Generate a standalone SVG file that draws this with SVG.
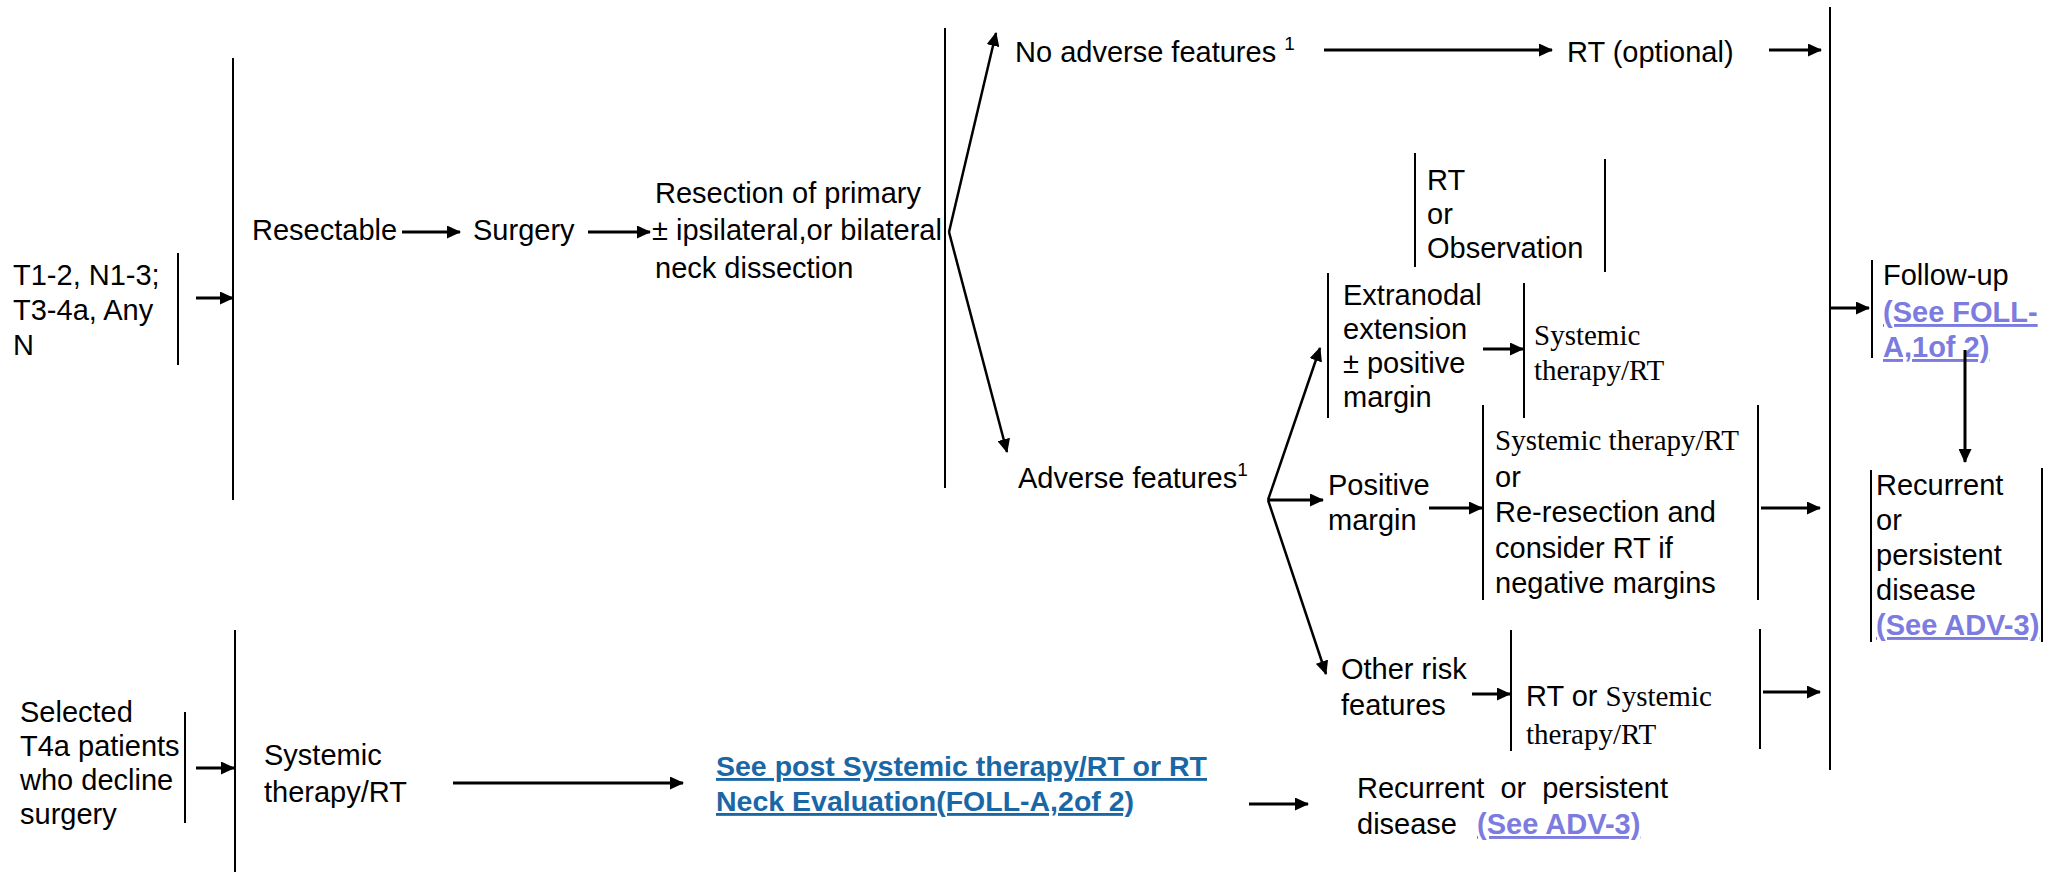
<svg xmlns="http://www.w3.org/2000/svg" width="2045" height="872" viewBox="0 0 2045 872">
<defs>
<marker id="ah" markerUnits="userSpaceOnUse" markerWidth="14" markerHeight="13" refX="13" refY="6.5" orient="auto">
<path d="M0,0 L14,6.5 L0,13 z" fill="#000"/>
</marker>
<style>
.t{font-family:"Liberation Sans",Arial,sans-serif;font-size:29px;fill:#000}
.s{font-family:"Liberation Serif","Times New Roman",serif;font-size:29px;fill:#000}
.sup{font-size:19px}
.lk{font-family:"Liberation Sans",Arial,sans-serif;font-size:29px;font-weight:bold;fill:#7b7be0;text-decoration:underline}
.lb{font-family:"Liberation Sans",Arial,sans-serif;font-size:28.5px;font-weight:bold;fill:#1a67a6;text-decoration:underline}
.br{stroke:#000;stroke-width:2;fill:none}
.ar{stroke:#000;stroke-width:3;fill:none;marker-end:url(#ah)}
.dg{stroke:#000;stroke-width:2.5;fill:none;marker-end:url(#ah)}
</style>
</defs>
<rect width="2045" height="872" fill="#fff"/>

<g id="n-stage1">
<text class="t" x="13" y="285">T1-2, N1-3;</text>
<text class="t" x="13" y="320">T3-4a, Any</text>
<text class="t" x="13" y="355">N</text>
<line class="br" x1="178" y1="253" x2="178" y2="365"/>
</g>
<g id="n-main1"><line class="br" x1="233" y1="58" x2="233" y2="500"/></g>
<g id="n-resectable"><text class="t" x="252" y="240">Resectable</text></g>
<g id="n-surgery"><text class="t" x="473" y="240">Surgery</text></g>
<g id="n-resection">
<text class="t" x="655" y="203">Resection of primary</text>
<text class="t" x="652" y="240">± ipsilateral,or bilateral</text>
<text class="t" x="655" y="278">neck dissection</text>
<line class="br" x1="945" y1="28" x2="945" y2="488"/>
</g>
<g id="n-noadverse"><text class="t" x="1015" y="62">No adverse features <tspan class="sup" dy="-12">1</tspan></text></g>
<g id="n-rtopt"><text class="t" x="1567" y="62">RT (optional)</text></g>
<g id="n-adverse"><text class="t" x="1018" y="488">Adverse features<tspan class="sup" dy="-12">1</tspan></text></g>
<g id="n-rtobs">
<line class="br" x1="1415" y1="153" x2="1415" y2="267"/>
<text class="t" x="1427" y="190">RT</text>
<text class="t" x="1427" y="224">or</text>
<text class="t" x="1427" y="258">Observation</text>
<line class="br" x1="1605" y1="159" x2="1605" y2="272"/>
</g>
<g id="n-extranodal">
<line class="br" x1="1328" y1="273" x2="1328" y2="418"/>
<text class="t" x="1343" y="305">Extranodal</text>
<text class="t" x="1343" y="339">extension</text>
<text class="t" x="1343" y="373">± positive</text>
<text class="t" x="1343" y="407">margin</text>
</g>
<g id="n-ext-tx">
<line class="br" x1="1524" y1="283" x2="1524" y2="418"/>
<text class="s" x="1534" y="345">Systemic</text>
<text class="s" x="1534" y="380">therapy/RT</text>
</g>
<g id="n-posmargin">
<text class="t" x="1328" y="495">Positive</text>
<text class="t" x="1328" y="530">margin</text>
</g>
<g id="n-pos-tx">
<line class="br" x1="1483" y1="405" x2="1483" y2="600"/>
<text class="s" x="1495" y="450">Systemic therapy/RT</text>
<text class="t" x="1495" y="487">or</text>
<text class="t" x="1495" y="522">Re-resection and</text>
<text class="t" x="1495" y="558">consider RT if</text>
<text class="t" x="1495" y="593">negative margins</text>
<line class="br" x1="1758" y1="405" x2="1758" y2="600"/>
</g>
<g id="n-otherrisk">
<text class="t" x="1341" y="679">Other risk</text>
<text class="t" x="1341" y="715">features</text>
</g>
<g id="n-other-tx">
<line class="br" x1="1511" y1="630" x2="1511" y2="751"/>
<text x="1526" y="706"><tspan class="t">RT or </tspan><tspan class="s">Systemic</tspan></text>
<text class="s" x="1526" y="744">therapy/RT</text>
<line class="br" x1="1760" y1="629" x2="1760" y2="749"/>
</g>
<g id="n-main2"><line class="br" x1="1830" y1="7" x2="1830" y2="770"/></g>
<g id="n-followup">
<line class="br" x1="1872" y1="260" x2="1872" y2="358"/>
<text class="t" x="1883" y="285">Follow-up</text>
<text class="lk" x="1883" y="322">(See FOLL-</text>
<text class="lk" x="1883" y="357">A,1of 2)</text>
</g>
<g id="n-recurrent">
<line class="br" x1="1871" y1="470" x2="1871" y2="642"/>
<text class="t" x="1876" y="495">Recurrent</text>
<text class="t" x="1876" y="530">or</text>
<text class="t" x="1876" y="565">persistent</text>
<text class="t" x="1876" y="600">disease</text>
<text class="lk" x="1876" y="635">(See ADV-3)</text>
<line class="br" x1="2042" y1="468" x2="2042" y2="642"/>
</g>
<g id="n-selected">
<text class="t" x="20" y="722">Selected</text>
<text class="t" x="20" y="756">T4a patients</text>
<text class="t" x="20" y="790">who decline</text>
<text class="t" x="20" y="824">surgery</text>
<line class="br" x1="185" y1="712" x2="185" y2="823"/>
</g>
<g id="n-main3"><line class="br" x1="235" y1="630" x2="235" y2="872"/></g>
<g id="n-systx">
<text class="t" x="264" y="765">Systemic</text>
<text class="t" x="264" y="802">therapy/RT</text>
</g>
<g id="n-seepost">
<text class="lb" x="716" y="776">See post Systemic therapy/RT or RT</text>
<text class="lb" x="716" y="811">Neck Evaluation(FOLL-A,2of 2)</text>
</g>
<g id="n-recur2">
<text class="t" x="1357" y="798" word-spacing="8">Recurrent or persistent</text>
<text x="1357" y="834"><tspan class="t">disease </tspan><tspan class="lk" dx="12">(See ADV-3)</tspan></text>
</g>

<g id="connectors">
<line class="ar" x1="196" y1="298" x2="233" y2="298"/>
<line class="ar" x1="402" y1="232" x2="460" y2="232"/>
<line class="ar" x1="588" y1="232" x2="650" y2="232"/>
<line class="dg" x1="949" y1="232" x2="996" y2="33"/>
<line class="dg" x1="949" y1="232" x2="1007" y2="452"/>
<line class="ar" x1="1324" y1="50" x2="1552" y2="50"/>
<line class="ar" x1="1769" y1="50" x2="1821" y2="50"/>
<line class="dg" x1="1268" y1="500" x2="1320" y2="348"/>
<line class="ar" x1="1268" y1="500" x2="1323" y2="500"/>
<line class="dg" x1="1268" y1="500" x2="1326" y2="674"/>
<line class="ar" x1="1483" y1="349" x2="1523" y2="349"/>
<line class="ar" x1="1429" y1="508" x2="1482" y2="508"/>
<line class="ar" x1="1761" y1="508" x2="1820" y2="508"/>
<line class="ar" x1="1472" y1="694" x2="1510" y2="694"/>
<line class="ar" x1="1763" y1="692" x2="1820" y2="692"/>
<line class="ar" x1="1831" y1="308" x2="1869" y2="308"/>
<line class="ar" x1="1965" y1="350" x2="1965" y2="462"/>
<line class="ar" x1="196" y1="768" x2="234" y2="768"/>
<line class="ar" x1="453" y1="783" x2="683" y2="783"/>
<line class="ar" x1="1249" y1="804" x2="1308" y2="804"/>
</g>
</svg>
